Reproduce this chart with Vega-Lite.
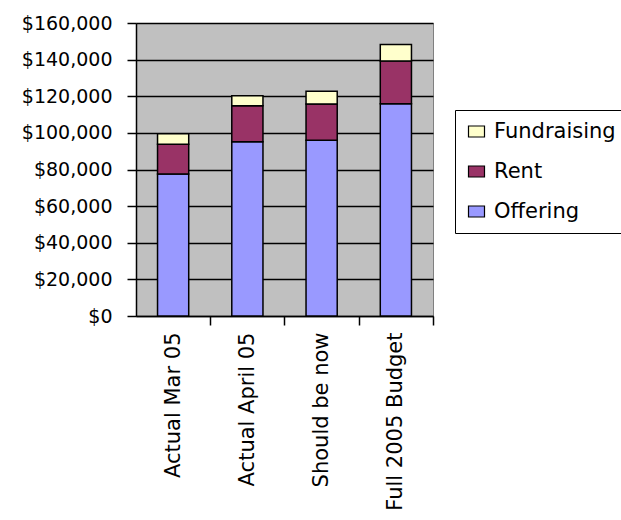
{
  "$schema": "https://vega.github.io/schema/vega-lite/v6.json",
  "width": 297,
  "height": 293,
  "autosize": {"type": "none"},
  "padding": {"left": 136, "top": 23, "right": 188, "bottom": 204},
  "background": "white",
  "config": {
    "font": "DejaVu Sans",
    "view": {"fill": "#C0C0C0", "stroke": "#808080", "strokeWidth": 1}
  },
  "data": {
    "values": [
      {"category": "Actual Mar 05", "series": "Offering", "amount": 77600},
      {"category": "Actual Mar 05", "series": "Rent", "amount": 16200},
      {"category": "Actual Mar 05", "series": "Fundraising", "amount": 5700},
      {"category": "Actual April 05", "series": "Offering", "amount": 95200},
      {"category": "Actual April 05", "series": "Rent", "amount": 19600},
      {"category": "Actual April 05", "series": "Fundraising", "amount": 5500},
      {"category": "Should be now", "series": "Offering", "amount": 96000},
      {"category": "Should be now", "series": "Rent", "amount": 19800},
      {"category": "Should be now", "series": "Fundraising", "amount": 6900},
      {"category": "Full 2005 Budget", "series": "Offering", "amount": 115900},
      {"category": "Full 2005 Budget", "series": "Rent", "amount": 23300},
      {"category": "Full 2005 Budget", "series": "Fundraising", "amount": 9000}
    ]
  },
  "transform": [
    {"calculate": "indexof(['Offering','Rent','Fundraising'], datum.series)", "as": "ord"}
  ],
  "mark": {"type": "bar", "stroke": "black", "strokeWidth": 1.5},
  "encoding": {
    "x": {
      "field": "category",
      "type": "nominal",
      "sort": ["Actual Mar 05", "Actual April 05", "Should be now", "Full 2005 Budget"],
      "scale": {"paddingInner": 0.58, "paddingOuter": 0.29},
      "axis": {
        "title": null,
        "labelAngle": -90,
        "labelFontSize": 21,
        "labelColor": "black",
        "labelPadding": 7,
        "tickBand": "center",
        "tickOffset": 37.1,
        "labelOffset": -37.1,
        "tickSize": 9,
        "tickColor": "black",
        "tickWidth": 1.5,
        "domainColor": "black",
        "domainWidth": 1.5,
        "grid": false
      }
    },
    "y": {
      "field": "amount",
      "type": "quantitative",
      "aggregate": "sum",
      "stack": "zero",
      "scale": {"domain": [0, 160000]},
      "axis": {
        "title": null,
        "format": "$,.0f",
        "values": [0, 20000, 40000, 60000, 80000, 100000, 120000, 140000, 160000],
        "labelFontSize": 19,
        "labelColor": "black",
        "labelPadding": 15,
        "tickSize": 9,
        "tickColor": "black",
        "tickWidth": 1.5,
        "domainColor": "black",
        "domainWidth": 1.5,
        "grid": true,
        "gridColor": "black",
        "gridWidth": 1.3,
        "gridOpacity": 1
      }
    },
    "color": {
      "field": "series",
      "type": "nominal",
      "scale": {
        "domain": ["Fundraising", "Rent", "Offering"],
        "range": ["#FFFFCC", "#993366", "#9999FF"]
      },
      "legend": {
        "title": null,
        "orient": "none",
        "legendX": 319,
        "legendY": 87,
        "labelFontSize": 21,
        "labelColor": "black",
        "labelOffset": 7,
        "symbolType": "M-1,-0.69L1,-0.69L1,0.69L-1,0.69Z",
        "symbolSize": 256,
        "symbolStrokeColor": "black",
        "symbolStrokeWidth": 1.2,
        "symbolOpacity": 1,
        "rowPadding": 18,
        "padding": 11,
        "strokeColor": "black",
        "fillColor": "white"
      }
    },
    "order": {"field": "ord", "type": "quantitative", "sort": "ascending"}
  }
}
